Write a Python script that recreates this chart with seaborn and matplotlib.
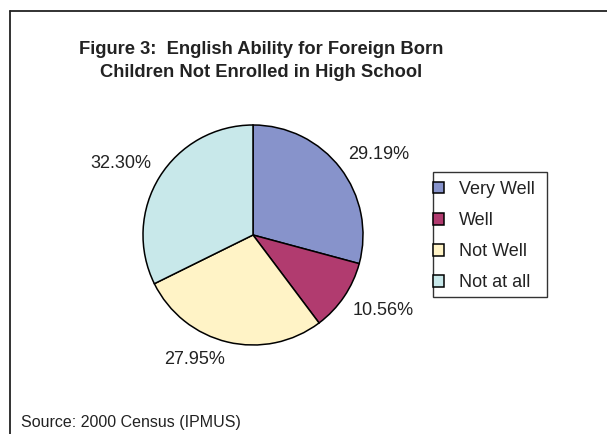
import matplotlib
matplotlib.use("Agg")
import numpy as np
import matplotlib.pyplot as plt
import seaborn as sns
from matplotlib.lines import Line2D
from matplotlib.patches import Rectangle

categories = ["Very Well", "Well", "Not Well", "Not at all"]
values = [29.19, 10.56, 27.95, 32.30]
value_labels = ["29.19%", "10.56%", "27.95%", "32.30%"]
colors = ["#8793CB", "#B13B6F", "#FFF3C6", "#C8E8EA"]
title = "Figure 3:  English Ability for Foreign Born\nChildren Not Enrolled in High School"
source = "Source: 2000 Census (IPMUS)"

sns.set_style("white")
plt.rcParams["font.family"] = ["Liberation Sans", "DejaVu Sans"]

W, H = 607, 434
fig = plt.figure(figsize=(W / 100, H / 100), dpi=100)
fig.patch.set_facecolor("white")

# frame (top and left lines only visible in reference)
fig.add_artist(Line2D([10 / W, 1.0], [1 - 10.5 / H, 1 - 10.5 / H], transform=fig.transFigure,
                      color="#222222", lw=1.3))
fig.add_artist(Line2D([10 / W, 10 / W], [0.0, 1 - 10.5 / H], transform=fig.transFigure,
                      color="#222222", lw=1.3))

cx, cy, r = 253, 235, 110
ax = fig.add_axes([(cx - r) / W, (H - cy - r) / H, 2 * r / W, 2 * r / H])
wedges, _ = ax.pie(values, colors=colors, startangle=90, counterclock=False,
                   wedgeprops=dict(edgecolor="black", linewidth=1.1))
ax.set_xlim(-1, 1)
ax.set_ylim(-1, 1)
ax.set_aspect("equal")
ax.axis("off")

# data labels placed outside the wedge, Excel-like (box corner toward the slice)
for w, lab in zip(wedges, value_labels):
    ang = np.deg2rad((w.theta1 + w.theta2) / 2)
    dx, dy = np.cos(ang), np.sin(ang)
    ax.annotate(lab, xy=(1.09 * dx, 1.09 * dy), xycoords="data",
                xytext=(0, 8 * np.sign(dy)), textcoords="offset pixels",
                ha="left" if dx > 0 else "right", va="center",
                fontsize=13, color="#222222", annotation_clip=False)

fig.text(261 / W, 1 - 61 / H, title, ha="center", va="center", fontsize=13.2,
         fontweight="bold", color="#222222", linespacing=1.5, multialignment="center")

# legend box
fig.add_artist(Rectangle((433 / W, 1 - 297 / H), 114 / W, 125 / H, transform=fig.transFigure,
                         facecolor="white", edgecolor="#333333", linewidth=1.0, zorder=1))
leg = fig.legend(wedges, categories, loc="upper left",
                 bbox_to_anchor=(433 / W, 1 - 181 / H), bbox_transform=fig.transFigure,
                 borderaxespad=0, frameon=False, fontsize=13,
                 handlelength=0.62, handleheight=0.62, handletextpad=0.8,
                 labelspacing=0.78, borderpad=0)
leg.set_zorder(2)
for txt in leg.get_texts():
    txt.set_color("#222222")

fig.text(21 / W, 1 - 423 / H, source, ha="left", va="center", fontsize=11.5, color="#222222")

fig.savefig("out.png", dpi=100, facecolor="white")
